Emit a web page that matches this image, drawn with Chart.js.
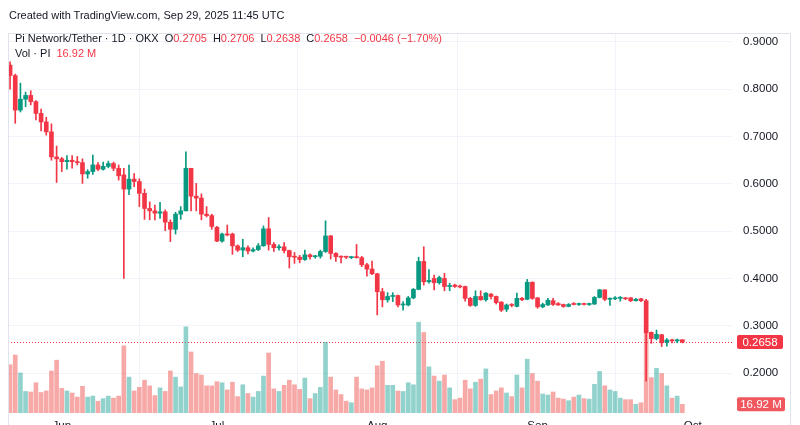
<!DOCTYPE html>
<html>
<head>
<meta charset="utf-8">
<script src="https://cdn.jsdelivr.net/npm/chart.js@4.4.1/dist/chart.umd.min.js"></script>
<style>
  html, body { margin: 0; padding: 0; background: #fff; }
  #wrap { position: relative; width: 800px; height: 425px; overflow: hidden;
          font-family: "Liberation Sans", Arial, sans-serif; color: #131722; }
  #chart { position: absolute; left: 0; top: 0; }
  .txt { position: absolute; white-space: nowrap; font-size: 11px; }
  .red { color: #f23645; }
  .gap { margin-left: 6px; }
</style>
</head>
<body>
<div id="wrap">
  <canvas id="chart" width="800" height="425"></canvas>
  <div class="txt" style="left:9px; top:9px;">Created with TradingView.com, Sep 29, 2025 11:45 UTC</div>
  <div class="txt" style="left:15px; top:32px;">Pi Network/Tether · 1D · OKX<span class="gap">O</span><span class="red">0.2705</span><span class="gap">H</span><span class="red">0.2706</span><span class="gap">L</span><span class="red">0.2638</span><span class="gap">C</span><span class="red">0.2658</span><span class="gap red">−0.0046 (−1.70%)</span></div>
  <div class="txt" style="left:15px; top:47px;">Vol · PI<span class="gap red">16.92 M</span></div>
</div>
<script>
// Pi Network/Tether 1D (OKX), 22 May -> 29 Sep 2025, one candle per day

const opens = [
  .851, .829, .756, .779, .787, .774, .749, .731, .710, .657,
  .653, .647, .650, .647, .645, .621, .626, .640, .631, .637,
  .643, .633, .619, .589, .610, .605, .580, .548, .543, .538,
  .541, .519, .504, .536, .543, .633, .574, .570, .536, .533,
  .508, .479, .494, .494, .469, .460, .465, .458, .461, .469,
  .505, .472, .465, .467, .459, .446, .445, .440, .450, .446,
  .447, .457, .490, .453, .446, .446, .444, .445, .444, .429,
  .420, .410, .372, .355, .362, .364, .344, .344, .359, .377,
  .436, .393, .400, .391, .400, .383, .386, .383, .383, .358,
  .343, .362, .355, .367, .362, .350, .335, .344, .341, .358,
  .356, .392, .359, .340, .344, .353, .347, .345, .341, .347,
  .345, .347, .345, .346, .360, .376, .356, .357, .358, .359,
  .359, .353, .357, .353, .286, .273, .281, .265, .270, .268,
  .2705
];
const highs = [
  .858, .832, .813, .794, .797, .776, .758, .741, .727, .680,
  .656, .660, .660, .658, .653, .630, .661, .645, .646, .648,
  .646, .640, .633, .640, .622, .611, .589, .562, .555, .561,
  .545, .524, .540, .552, .668, .633, .601, .579, .552, .536,
  .510, .496, .513, .496, .471, .483, .469, .465, .474, .511,
  .529, .476, .471, .476, .460, .455, .449, .460, .452, .449,
  .460, .522, .491, .455, .448, .447, .447, .472, .447, .432,
  .437, .411, .379, .370, .370, .365, .351, .362, .379, .445,
  .467, .419, .407, .405, .411, .390, .388, .386, .384, .360,
  .374, .374, .370, .368, .363, .351, .346, .347, .369, .360,
  .398, .393, .360, .348, .358, .358, .349, .346, .347, .349,
  .348, .348, .348, .362, .377, .376, .359, .362, .362, .360,
  .360, .358, .358, .356, .287, .291, .282, .273, .272, .272,
  .2706
];
const lows = [
  .800, .728, .752, .763, .767, .735, .712, .703, .650, .603,
  .626, .631, .633, .640, .601, .612, .620, .628, .629, .634,
  .628, .608, .400, .577, .594, .552, .525, .524, .524, .527,
  .501, .478, .494, .525, .543, .543, .543, .524, .530, .504,
  .478, .477, .490, .451, .457, .446, .452, .456, .459, .468,
  .460, .457, .460, .454, .422, .432, .433, .438, .441, .443,
  .443, .455, .441, .436, .433, .442, .442, .443, .425, .405,
  .408, .323, .340, .350, .351, .340, .333, .342, .357, .376,
  .386, .390, .376, .388, .374, .374, .381, .380, .352, .341,
  .341, .354, .352, .357, .346, .330, .330, .340, .340, .353,
  .355, .356, .337, .338, .343, .343, .343, .339, .340, .344,
  .343, .344, .343, .345, .359, .353, .343, .355, .352, .355,
  .351, .352, .351, .183, .263, .270, .256, .257, .264, .264,
  .2638
];
const closes = [
  .829, .756, .779, .787, .774, .749, .731, .710, .657, .653,
  .647, .650, .647, .645, .621, .626, .640, .631, .637, .643,
  .633, .617, .589, .610, .605, .580, .548, .543, .538, .541,
  .519, .504, .536, .543, .633, .574, .570, .536, .533, .510,
  .479, .494, .492, .469, .460, .465, .458, .461, .469, .505,
  .472, .465, .467, .459, .446, .445, .440, .450, .446, .447,
  .457, .490, .453, .446, .445, .445, .445, .444, .429, .420,
  .410, .372, .355, .362, .364, .344, .346, .359, .377, .436,
  .393, .396, .391, .402, .383, .385, .383, .382, .358, .343,
  .362, .355, .369, .362, .349, .333, .344, .343, .358, .355,
  .392, .358, .340, .345, .354, .345, .344, .341, .345, .345,
  .347, .345, .347, .360, .376, .356, .357, .359, .359, .357,
  .353, .356, .353, .285, .273, .282, .264, .270, .268, .2704,
  .2658
];
// volume in millions of PI
const volumes = [
  94, 113, 78, 42, 41, 59, 40, 43, 82, 103,
  48, 43, 39, 31, 52, 31, 33, 23, 28, 33,
  29, 33, 131, 70, 43, 50, 64, 53, 34, 49,
  42, 82, 70, 51, 168, 119, 77, 74, 53, 53,
  61, 59, 45, 60, 32, 55, 38, 31, 42, 72,
  117, 47, 42, 54, 64, 55, 46, 68, 28, 38,
  50, 138, 70, 45, 36, 23, 20, 70, 47, 45,
  49, 92, 101, 54, 54, 43, 42, 59, 55, 177,
  157, 90, 72, 62, 74, 49, 26, 29, 64, 47,
  60, 66, 86, 36, 43, 49, 39, 32, 74, 49,
  105, 77, 62, 37, 35, 41, 29, 27, 24, 31,
  35, 28, 27, 56, 81, 53, 45, 42, 29, 26,
  26, 17, 20, 155, 69, 87, 77, 53, 29, 33,
  16.92
];

// day index of the 1st of each month (day 0 = 22 May)
const monthTicks  = [10, 40, 71, 102, 132];
const monthLabels = ["Jun", "Jul", "Aug", "Sep", "Oct"];
const priceTicks  = [0.2, 0.3, 0.4, 0.5, 0.6, 0.7, 0.8, 0.9];

const lastPrice  = closes[closes.length - 1];
const lastVolume = volumes[volumes.length - 1];

const UP     = "#089981";
const DOWN   = "#f23645";
const UP_V   = "rgba(38, 166, 154, 0.5)";
const DOWN_V = "rgba(239, 83, 80, 0.5)";
const GRID   = "#f0f3fa";
const TEXT   = "#131722";
const FONT   = "'Liberation Sans', Arial, sans-serif";

const isUp = closes.map((c, i) => c >= opens[i]);

const bodies = opens.map((o, i) => ({ x: i, y: [o, closes[i]] }));
const wicks  = lows.map((l, i) => ({ x: i, y: [l, highs[i]] }));
const vols   = volumes.map((v, i) => ({ x: i, y: v }));

const overlay = {
  id: "overlay",
  beforeDatasetsDraw(chart) {
    const { ctx, chartArea: a, scales } = chart;
    const y = Math.round(scales.y.getPixelForValue(lastPrice)) + 0.5;
    ctx.save();
    ctx.strokeStyle = DOWN;
    ctx.lineWidth = 1;
    ctx.setLineDash([1, 2]);
    ctx.beginPath();
    ctx.moveTo(a.left, y);
    ctx.lineTo(a.right, y);
    ctx.stroke();
    ctx.restore();
  },
  afterDraw(chart) {
    const { ctx, chartArea: a, scales } = chart;
    ctx.save();
    // frame
    ctx.strokeStyle = "#e0e3eb";
    ctx.lineWidth = 1;
    ctx.beginPath();
    ctx.moveTo(8.5, 425);
    ctx.lineTo(8.5, 33.5);
    ctx.lineTo(790.5, 33.5);
    ctx.lineTo(790.5, 425);
    ctx.stroke();

    // last price label
    const py = scales.y.getPixelForValue(lastPrice);
    ctx.fillStyle = DOWN;
    ctx.beginPath();
    ctx.roundRect(a.right + 5, py - 7, 46, 14, 2);
    ctx.fill();
    ctx.fillStyle = "#fff";
    ctx.font = "11.5px " + FONT;
    ctx.textAlign = "center";
    ctx.textBaseline = "middle";
    ctx.fillText(lastPrice.toFixed(4), a.right + 28, py + 0.5);

    // last volume label
    const vy = scales.yVol.getPixelForValue(lastVolume);
    ctx.fillStyle = "#f0575e";
    ctx.beginPath();
    ctx.roundRect(a.right + 5, vy - 7, 48, 14, 2);
    ctx.fill();
    ctx.fillStyle = "#fff";
    ctx.fillText(lastVolume.toFixed(2) + " M", a.right + 29, vy + 0.5);
    ctx.restore();
  }
};

new Chart(document.getElementById("chart"), {
  type: "bar",
  data: {
    datasets: [
      {
        data: bodies,
        backgroundColor: isUp.map(u => u ? UP : DOWN),
        barThickness: 4,
        minBarLength: 1,
        grouped: false,
        order: 0,
      },
      {
        data: wicks,
        backgroundColor: isUp.map(u => u ? UP : DOWN),
        barThickness: 1,
        grouped: false,
        order: 1,
      },
      {
        data: vols,
        yAxisID: "yVol",
        backgroundColor: isUp.map(u => u ? UP_V : DOWN_V),
        barThickness: 4,
        grouped: false,
        order: 2,
      },
    ],
  },
  options: {
    responsive: false,
    animation: false,
    layout: { padding: { left: 8, top: 33, right: 0, bottom: 0 } },
    plugins: { legend: { display: false }, tooltip: { enabled: false } },
    scales: {
      x: {
        type: "linear",
        min: -0.4,
        max: 139.6,
        offset: false,
        afterBuildTicks: s => { s.ticks = monthTicks.map(v => ({ value: v })); },
        afterFit: s => { s.height = 12; s.paddingLeft = 0; s.paddingRight = 0; },
        grid: { color: GRID, drawTicks: false },
        border: { display: false },
        ticks: {
          autoSkip: false,
          maxRotation: 0,
          padding: 6,
          color: TEXT,
          font: { family: FONT, size: 11.5 },
          callback: v => monthLabels[monthTicks.indexOf(v)],
        },
      },
      y: {
        position: "right",
        min: 0.1156,
        max: 0.919,
        afterBuildTicks: s => { s.ticks = priceTicks.map(v => ({ value: v })); },
        afterFit: s => { s.width = 68; s.paddingTop = 0; s.paddingBottom = 0; },
        grid: { color: GRID, drawTicks: false },
        border: { display: false },
        ticks: {
          padding: 11,
          color: TEXT,
          font: { family: FONT, size: 11.5 },
          callback: v => v.toFixed(4),
        },
      },
      yVol: { display: false, min: 0, max: 741 },
    },
  },
  plugins: [overlay],
});
</script>
</body>
</html>
